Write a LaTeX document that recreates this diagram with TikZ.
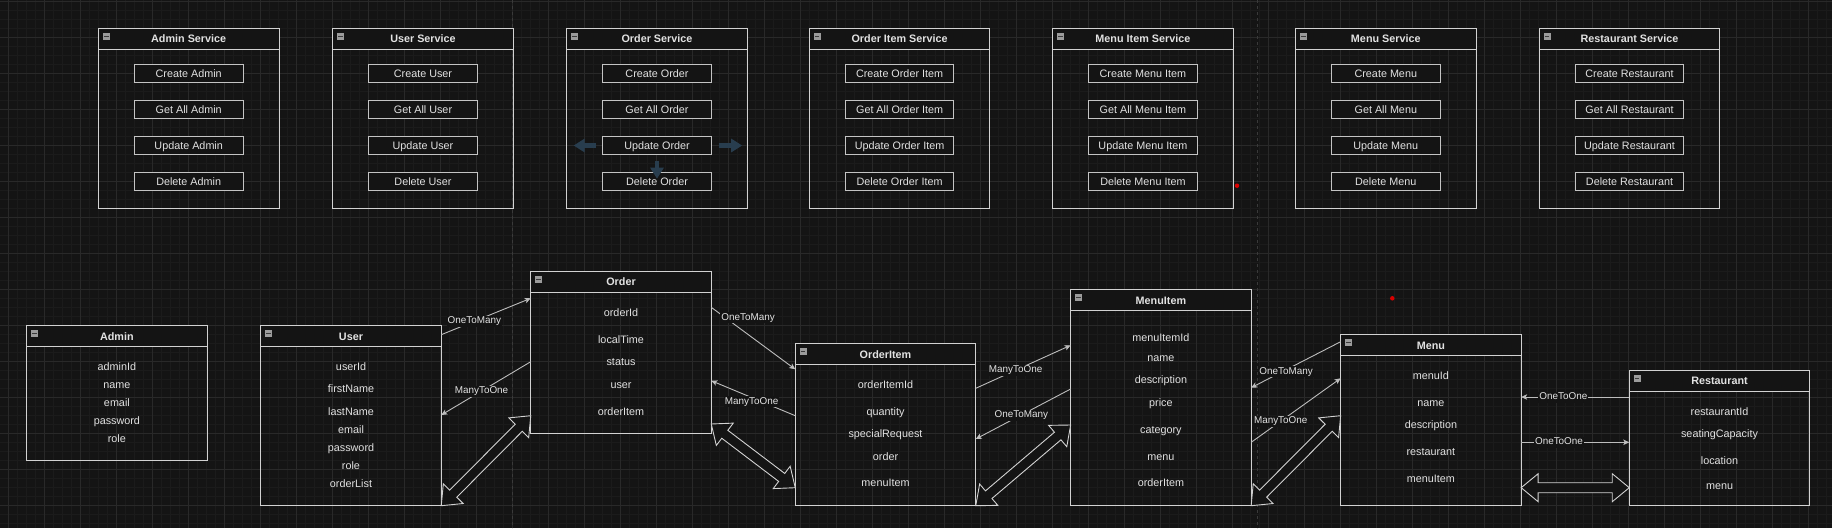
\documentclass[tikz,border=0pt]{standalone}
\usepackage{fontspec}
\setmainfont{Liberation Sans}
\usetikzlibrary{arrows.meta, positioning, calc}
\definecolor{bg}{HTML}{141414}
\definecolor{gridminor}{HTML}{1B1B1B}
\definecolor{gridmajor}{HTML}{292929}
\definecolor{pagebrk}{HTML}{3A3A3A}
\definecolor{boxc}{HTML}{D2D2D2}
\definecolor{btnc}{HTML}{C4C4C4}
\definecolor{conn}{HTML}{BDBDBD}
\definecolor{txt}{HTML}{E2E2E2}
\definecolor{iconc}{HTML}{9C9C9C}
\definecolor{icondash}{HTML}{3C3C3C}
\definecolor{hoverc}{HTML}{283D4E}
\newcommand{\titlefont}{\fontsize{10.8}{13}\selectfont\bfseries}
\newcommand{\fieldfont}{\fontsize{10.8}{13}\selectfont}
\newcommand{\lblfont}{\fontsize{9.9}{12}\selectfont}
% hollow double-headed block arrow between two named points
\newcommand{\flexarr}[3]{%
  \coordinate (#1p) at ($(#2)!17pt!(#3)$);
  \coordinate (#1q) at ($(#3)!17pt!(#2)$);
  \draw[flex] (#2) -- ($(#1p)!14pt!90:(#3)$) -- ($(#1p)!5pt!90:(#3)$)
    -- ($(#1q)!5pt!90:(#3)$) -- ($(#1q)!14pt!90:(#3)$) -- (#3)
    -- ($(#1q)!14pt!-90:(#3)$) -- ($(#1q)!5pt!-90:(#3)$)
    -- ($(#1p)!5pt!-90:(#3)$) -- ($(#1p)!14pt!-90:(#3)$) -- cycle;
}

\begin{document}
\begin{tikzpicture}[x=1pt, y=-1pt,
      box/.style={draw=boxc, line width=0.9pt, minimum width=180.5, inner sep=0pt, outer sep=0pt},
      head/.style={box, fill=bg, minimum height=21, text=txt, font=\titlefont, text height=7.7pt, text depth=0pt},
      icon/.style={fill=iconc, minimum size=7, inner sep=0pt, outer sep=0pt,
        path picture={\draw[icondash, line width=1pt] ([xshift=1.3pt]path picture bounding box.west) -- ([xshift=-1.3pt]path picture bounding box.east);}},
      btn/.style={draw=btnc, line width=0.9pt, fill=bg, minimum width=108.5, minimum height=18.5, inner sep=0pt, text=txt, font=\fieldfont, text height=7.7pt, text depth=0pt},
      field/.style={text=txt, font=\fieldfont, inner sep=0pt, text height=7.7pt, text depth=0pt},
      rel/.style={draw=conn, line width=0.9pt, -{Stealth[length=6pt, width=5.5pt, inset=1.5pt]}},
      lbl/.style={fill=bg, text=txt, font=\lblfont, inner sep=1pt, text height=7pt, text depth=2pt},
      flex/.style={draw=boxc, fill=bg, line width=0.9pt, line join=miter},
      hover/.style={draw=hoverc, line width=4.7pt, -{Triangle[length=11pt, width=13pt]}},
      reddot/.style={circle, fill=red!85!black, minimum size=4.5, inner sep=0pt},
    ]
    \useasboundingbox (0,0) rectangle (1832,528);
    % --- canvas and grid ----------------------------------------------
    \fill[bg] (0,0) rectangle (1832,528);
    \foreach \gx in {-0.7,8.3,...,1832} \draw[gridminor, line width=0.8pt] (\gx,0) -- (\gx,528);
    \foreach \gy in {1,10,...,528} \draw[gridminor, line width=0.8pt] (0,\gy) -- (1832,\gy);
    \foreach \gx in {8.3,44.3,...,1832} \draw[gridmajor, line width=0.9pt] (\gx,0) -- (\gx,528);
    \foreach \gy in {1,37,...,528} \draw[gridmajor, line width=0.9pt] (0,\gy) -- (1832,\gy);
    \draw[pagebrk, line width=0.9pt, dash pattern=on 3pt off 3pt] (512.7,0) -- (512.7,528);
    \draw[pagebrk, line width=0.9pt, dash pattern=on 3pt off 3pt] (1257.3,0) -- (1257.3,528);
    % --- service boxes with their four buttons ------------------------
    \foreach \n/\cx/\e in {adminsvc/188.7/Admin, usersvc/423/User, ordersvc/657/Order,
        orderitemsvc/899.6/Order Item, menuitemsvc/1142.9/Menu Item,
        menusvc/1385.8/Menu, restaurantsvc/1629.5/Restaurant} {
      \node[box, minimum height=180] (\n) at (\cx,118.3) {};
      \node[head, anchor=north] (\n-h) at (\n.north) {\e\ Service};
      \node[icon] (\n-i) at ([xshift=7.9pt, yshift=-8pt]\n.north west) {};
      \foreach \a [count=\k] in {Create, Get All, Update, Delete}
        \node[btn] (\n-b\k) at (\cx, 37.5+36*\k) {\a\ \e};
    }
    % --- entity boxes -------------------------------------------------
    \foreach \n/\cx/\cy/\h/\t in {admin/116.9/393.2/135/Admin, user/351/415.7/180/User,
        order/621/352.5/162.4/Order, orderitem/885.5/424.7/162/OrderItem,
        menuitem/1160.9/397.7/216/MenuItem, menu/1430.9/420.2/171/Menu,
        restaurant/1719.5/438/135.4/Restaurant} {
      \node[box, minimum height=\h] (\n) at (\cx,\cy) {};
      \node[head, anchor=north] (\n-h) at (\n.north) {\t};
      \node[icon] (\n-i) at ([xshift=7.9pt, yshift=-8pt]\n.north west) {};
    }
    % --- entity fields ------------------------------------------------
    \foreach \f/\y [count=\i] in {adminId/366.3, name/384.3, email/402.3, password/420.3, role/438.3}
      \node[field] (admin-f\i) at (116.9,\y) {\f};
    \foreach \f/\y [count=\i] in {userId/366.3, firstName/388.3, lastName/411.3, email/429.3,
        password/447.3, role/465.3, orderList/483.3}
      \node[field] (user-f\i) at (351,\y) {\f};
    \foreach \f/\y [count=\i] in {orderId/312.3, localTime/339.3, status/361.3, user/384.3, orderItem/411.3}
      \node[field] (order-f\i) at (621,\y) {\f};
    \foreach \f/\y [count=\i] in {orderItemId/384.3, quantity/411.3, specialRequest/433.3,
        order/456.3, menuItem/483}
      \node[field] (orderitem-f\i) at (885.5,\y) {\f};
    \foreach \f/\y [count=\i] in {menuItemId/337.3, name/357.3, description/379.3, price/402.3,
        category/429.3, menu/456.3, orderItem/483}
      \node[field] (menuitem-f\i) at (1160.9,\y) {\f};
    \foreach \f/\y [count=\i] in {menuId/375.3, name/402.3, description/424.3, restaurant/451.3, menuItem/478.3}
      \node[field] (menu-f\i) at (1430.9,\y) {\f};
    \foreach \f/\y [count=\i] in {restaurantId/411.3, seatingCapacity/433.3, location/460.3, menu/485.3}
      \node[field] (restaurant-f\i) at (1719.5,\y) {\f};
    % --- relation arrows ----------------------------------------------
    \draw[rel] ([yshift=-9pt]user.north east) -- node[lbl, pos=.37] (l1) {OneToMany} ([yshift=-27pt]order.north west);
    \draw[rel] ([yshift=72pt]order.south west) -- node[lbl, pos=.55] (l2) {ManyToOne} ([yshift=-89.3pt]user.north east);
    \draw[rel] ([yshift=-36pt]order.north east) -- node[lbl, pos=.2, xshift=20pt, yshift=2pt] (l3) {OneToMany} ([yshift=-25.6pt]orderitem.north west);
    \draw[rel] ([yshift=-72pt]orderitem.north west) -- node[lbl, pos=.52, yshift=-4pt] (l4) {ManyToOne} ([yshift=-109.4pt]order.north east);
    \draw[rel] ([yshift=-44.6pt]orderitem.north east) -- node[lbl, pos=.42] (l5) {ManyToOne} ([yshift=-55.6pt]menuitem.north west);
    \draw[rel] ([yshift=-99.3pt]menuitem.north west) -- node[lbl, pos=.52] (l6) {OneToMany} ([yshift=-95.3pt]orderitem.north east);
    \draw[rel] ([yshift=-7pt]menu.north west) -- node[lbl, pos=.61, yshift=-2pt] (l7) {OneToMany} ([yshift=-98pt]menuitem.north east);
    \draw[rel] ([yshift=63.4pt]menuitem.south east) -- node[lbl, pos=.33] (l8) {ManyToOne} ([yshift=-43.6pt]menu.north west);
    \draw[rel] ([yshift=-26.7pt]restaurant.north west) -- node[lbl, pos=.61] (l9) {OneToOne} ([yshift=-62.3pt]menu.north east);
    \draw[rel] ([yshift=63.4pt]menu.south east) -- node[lbl, pos=.35] (l10) {OneToOne} ([yshift=63.4pt]restaurant.south west);
    % --- hollow two-way arrows ----------------------------------------
    \coordinate (fa1) at ([yshift=18pt]order.south west);
    \coordinate (fa2) at ([yshift=9.7pt]order.south east);
    \coordinate (fa3) at ([yshift=18pt]orderitem.south west);
    \coordinate (fa4) at ([yshift=80.7pt]menuitem.south west);
    \coordinate (fa5) at ([yshift=90pt]menu.south west);
    \coordinate (fa6) at ([yshift=18pt]menu.south east);
    \coordinate (fa7) at ([yshift=18pt]restaurant.south west);
    \flexarr{ua}{user.south east}{fa1}
    \flexarr{oa}{fa2}{fa3}
    \flexarr{ia}{orderitem.south east}{fa4}
    \flexarr{ma}{menuitem.south east}{fa5}
    \flexarr{ra}{fa6}{fa7}
    % --- hover hints round Update Order, stray red dots ---------------
    \draw[hover] ([xshift=-6.3pt]ordersvc-b3.west) -- ([xshift=-28.7pt]ordersvc-b3.west);
    \draw[hover] ([xshift=7pt]ordersvc-b3.east) -- ([xshift=30.5pt]ordersvc-b3.east);
    \draw[hover] ([yshift=-5.3pt]ordersvc-b3.south) -- ([yshift=-23.5pt]ordersvc-b3.south);
    \node[reddot] (dot1) at (1237,185.7) {};
    \node[reddot] (dot2) at (1392.3,298.3) {};
  \end{tikzpicture}
\end{document}
